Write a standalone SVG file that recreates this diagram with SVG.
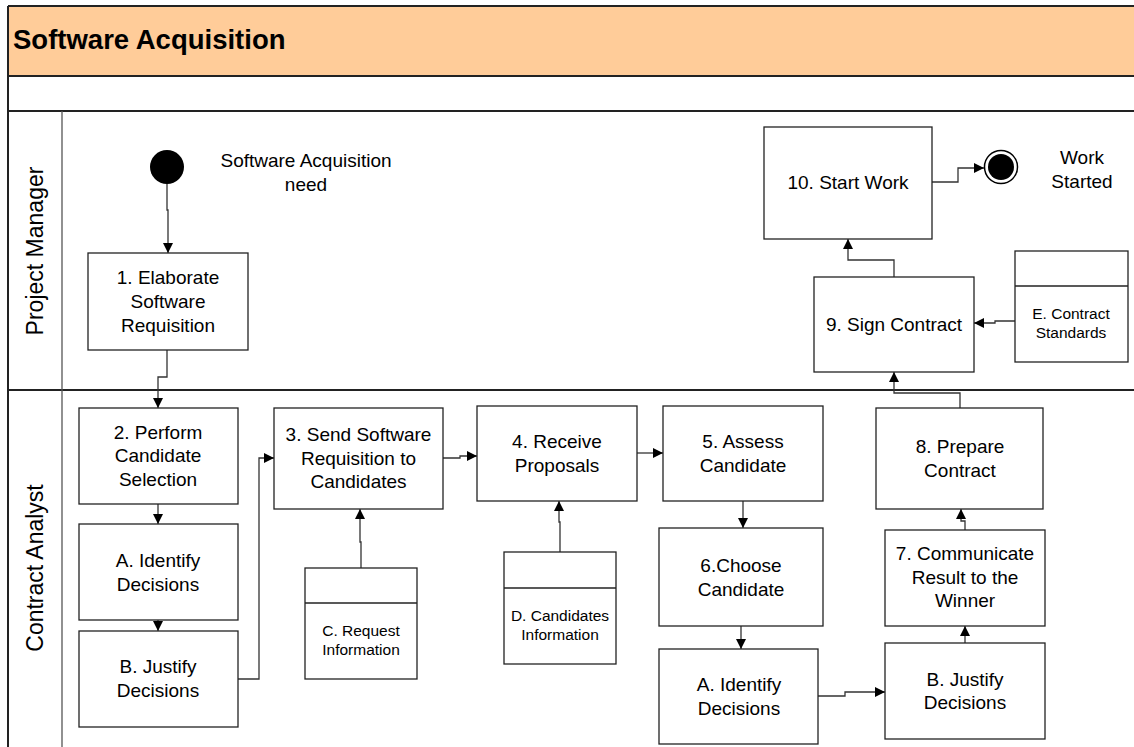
<svg xmlns="http://www.w3.org/2000/svg" width="1134" height="747" viewBox="0 0 1134 747">
<defs>
<marker id="arr" viewBox="0 0 10 10" refX="10" refY="5" markerWidth="10" markerHeight="10" markerUnits="userSpaceOnUse" orient="auto">
<path d="M0,0 L10,5 L0,10 z" fill="#000"/>
</marker>
<style>
.box{fill:#fff;stroke:#222;stroke-width:1.3}
.t{font-family:"Liberation Sans",Arial,sans-serif;font-size:19px;fill:#000;text-anchor:middle}
.s{font-family:"Liberation Sans",Arial,sans-serif;font-size:15.5px;fill:#000;text-anchor:middle}
.lane{font-family:"Liberation Sans",Arial,sans-serif;font-size:23px;fill:#000;text-anchor:middle}
.c{fill:none;stroke:#333;stroke-width:1.3;marker-end:url(#arr)}
.frame{stroke:#222;stroke-width:2;fill:none}
</style>
</defs>
<rect width="1134" height="747" fill="#fff"/>
<g id="frame">
<rect x="8" y="6" width="1140" height="70" fill="#ffcc99"/>
<line class="frame" x1="8" y1="6" x2="1134" y2="6"/>
<line class="frame" x1="8" y1="76" x2="1134" y2="76"/>
<line class="frame" x1="8" y1="111" x2="1134" y2="111"/>
<line class="frame" x1="8" y1="390" x2="1134" y2="390"/>
<line class="frame" x1="8" y1="6" x2="8" y2="747"/>
<line x1="62" y1="111" x2="62" y2="747" stroke="#555" stroke-width="1.3"/>
<text x="13" y="49" font-family="'Liberation Sans',Arial,sans-serif" font-size="27.5" font-weight="bold" fill="#000">Software Acquisition</text>
<text class="lane" transform="translate(43,251) rotate(-90)">Project Manager</text>
<text class="lane" transform="translate(43,568) rotate(-90)">Contract Analyst</text>
</g>
<g id="connectors">
<path class="c" d="M167,184 V210 H168 V253"/>
<path class="c" d="M167,350 V377 H158 V408"/>
<path class="c" d="M158,504 V524"/>
<path class="c" d="M158,620 V631"/>
<path class="c" d="M238,679 H259 V458 H274"/>
<path class="c" d="M443,458 H460 V456 H477"/>
<path class="c" d="M637,453 H663"/>
<path class="c" d="M743,501 V528"/>
<path class="c" d="M741,626 V649"/>
<path class="c" d="M818,696 H845 V692 H885"/>
<path class="c" d="M965,643 V626"/>
<path class="c" d="M965,530 V521 H961 V509"/>
<path class="c" d="M960,408 V393 H894 V372"/>
<path class="c" d="M1015,321 H995 V323 H974"/>
<path class="c" d="M894,277 V260 H848 V239"/>
<path class="c" d="M932,182 H958 V168 H984"/>
<path class="c" d="M361,568 V542 H360 V509"/>
<path class="c" d="M560,552 V522 H559 V501"/>
</g>
<g id="start">
<circle cx="167" cy="167" r="17" fill="#000"/>
<text class="t" x="306" y="167">Software Acquisition</text>
<text class="t" x="306" y="191">need</text>
</g>
<g id="n1">
<rect class="box" x="88" y="253" width="160" height="97"/>
<text class="t" x="168" y="284">1. Elaborate</text>
<text class="t" x="168" y="308">Software</text>
<text class="t" x="168" y="332">Requisition</text>
</g>
<g id="n2">
<rect class="box" x="79" y="408" width="159" height="96"/>
<text class="t" x="158" y="439">2. Perform</text>
<text class="t" x="158" y="462">Candidate</text>
<text class="t" x="158" y="486">Selection</text>
</g>
<g id="nA1">
<rect class="box" x="79" y="524" width="159" height="96"/>
<text class="t" x="158" y="567">A. Identify</text>
<text class="t" x="158" y="591">Decisions</text>
</g>
<g id="nB1">
<rect class="box" x="79" y="631" width="159" height="96"/>
<text class="t" x="158" y="673">B. Justify</text>
<text class="t" x="158" y="697">Decisions</text>
</g>
<g id="n3">
<rect class="box" x="274" y="408" width="169" height="101"/>
<text class="t" x="358.5" y="441">3. Send Software</text>
<text class="t" x="358.5" y="465">Requisition to</text>
<text class="t" x="358.5" y="488">Candidates</text>
</g>
<g id="nC">
<rect class="box" x="305" y="568" width="112" height="111"/>
<line x1="305" y1="603" x2="417" y2="603" stroke="#222" stroke-width="1.3"/>
<text class="s" x="361" y="636">C. Request</text>
<text class="s" x="361" y="655">Information</text>
</g>
<g id="n4">
<rect class="box" x="477" y="406" width="160" height="95"/>
<text class="t" x="557" y="448">4. Receive</text>
<text class="t" x="557" y="472">Proposals</text>
</g>
<g id="nD">
<rect class="box" x="504" y="552" width="112" height="112"/>
<line x1="504" y1="588" x2="616" y2="588" stroke="#222" stroke-width="1.3"/>
<text class="s" x="560" y="621">D. Candidates</text>
<text class="s" x="560" y="640">Information</text>
</g>
<g id="n5">
<rect class="box" x="663" y="406" width="160" height="95"/>
<text class="t" x="743" y="448">5. Assess</text>
<text class="t" x="743" y="472">Candidate</text>
</g>
<g id="n6">
<rect class="box" x="659" y="528" width="164" height="98"/>
<text class="t" x="741" y="572">6.Choose</text>
<text class="t" x="741" y="596">Candidate</text>
</g>
<g id="nA2">
<rect class="box" x="659" y="649" width="159" height="95"/>
<text class="t" x="739" y="691">A. Identify</text>
<text class="t" x="739" y="715">Decisions</text>
</g>
<g id="nB2">
<rect class="box" x="885" y="643" width="160" height="96"/>
<text class="t" x="965" y="686">B. Justify</text>
<text class="t" x="965" y="709">Decisions</text>
</g>
<g id="n7">
<rect class="box" x="885" y="530" width="160" height="96"/>
<text class="t" x="965" y="560">7. Communicate</text>
<text class="t" x="965" y="584">Result to the</text>
<text class="t" x="965" y="607">Winner</text>
</g>
<g id="n8">
<rect class="box" x="876" y="408" width="167" height="101"/>
<text class="t" x="960" y="453">8. Prepare</text>
<text class="t" x="960" y="477">Contract</text>
</g>
<g id="n9">
<rect class="box" x="814" y="277" width="160" height="95"/>
<text class="t" x="894" y="331">9. Sign Contract</text>
</g>
<g id="nE">
<rect class="box" x="1015" y="251" width="113" height="111"/>
<line x1="1015" y1="286" x2="1128" y2="286" stroke="#222" stroke-width="1.3"/>
<text class="s" x="1071" y="319">E. Contract</text>
<text class="s" x="1071" y="338">Standards</text>
</g>
<g id="n10">
<rect class="box" x="764" y="127" width="168" height="112"/>
<text class="t" x="848" y="189">10. Start Work</text>
</g>
<g id="end">
<circle cx="1001" cy="167" r="16.5" fill="#fff" stroke="#000" stroke-width="1.5"/>
<circle cx="1001" cy="167" r="13" fill="#000"/>
<text class="t" x="1082" y="164">Work</text>
<text class="t" x="1082" y="188">Started</text>
</g>
</svg>
